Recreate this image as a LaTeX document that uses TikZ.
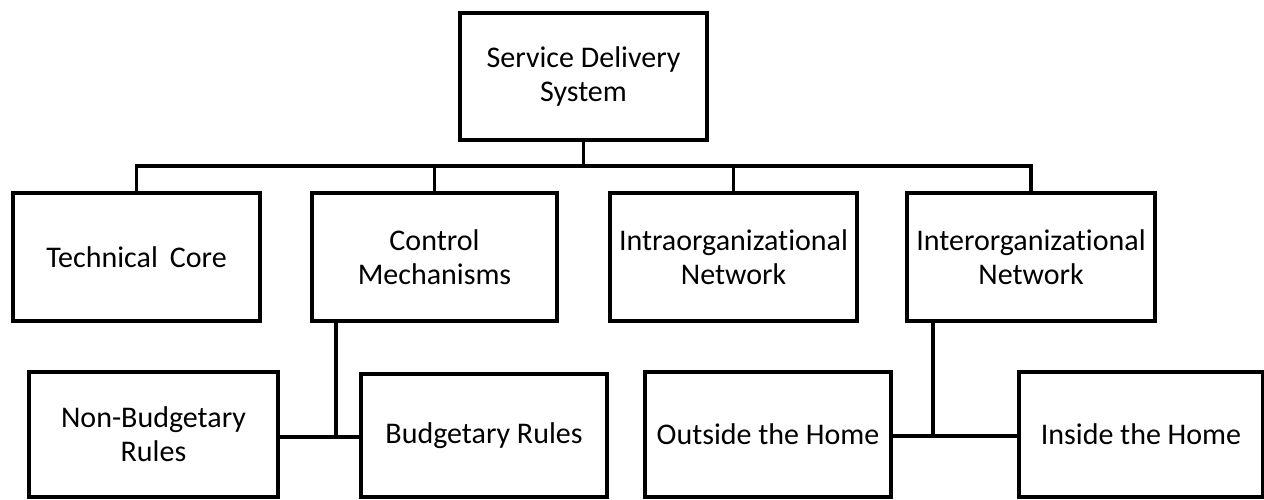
\documentclass[tikz,border=0pt]{standalone}
\usepackage{fontspec}
\setmainfont{Carlito}[Ligatures=NoCommon]
\begin{document}
\begin{tikzpicture}[x=1pt,y=-1pt,
  box/.style={draw=black, line width=3.2pt, fill=white, inner sep=0pt, align=center,
    font=\fontsize{30}{34}\selectfont},
  conn/.style={draw=black, line width=3.2pt}]
\useasboundingbox (0,0) rectangle (1264,499);
\node[box, minimum width=247pt, minimum height=127pt] (top) at (583.5,76.5) {Service Delivery\\System};
\node[box, minimum width=247pt, minimum height=128pt] (tech) at (136.5,257) {Technical\hspace{0.4em}Core};
\node[box, minimum width=245pt, minimum height=128pt] (control) at (434.5,257) {Control\\Mechanisms};
\node[box, minimum width=247pt, minimum height=128pt] (intra) at (733.5,257) {Intraorganizational\\Network};
\node[box, minimum width=248pt, minimum height=128pt] (inter) at (1031,257) {Interorganizational\\Network};
\node[box, minimum width=249pt, minimum height=125pt] (nonbud) at (153.5,434.5) {Non-Budgetary\\Rules};
\node[box, minimum width=246pt, minimum height=123pt] (bud) at (484,435.5) {\raisebox{-3pt}{Budgetary Rules}};
\node[box, minimum width=246pt, minimum height=125pt] (outside) at (768,434.5) {Outside the Home};
\node[box, minimum width=244pt, minimum height=125pt] (inside) at (1141,434.5) {Inside the Home};
\coordinate (bus) at (583.5,166);
\draw[conn] (top.south) -- (bus);
\draw[conn] (tech.north) |- (bus) -| (inter.north);
\draw[conn] (control.north) -- (control.north |- bus);
\draw[conn] (intra.north) -- (intra.north |- bus);
\coordinate (c1) at (336,321);
\coordinate (c2) at (336,437);
\draw[conn] (c1) -- (c2);
\draw[conn] (nonbud.east |- c2) -- (c2) -- (bud.west |- c2);
\coordinate (i1) at (933,321);
\coordinate (i2) at (933,436);
\draw[conn] (i1) -- (i2);
\draw[conn] (outside.east |- i2) -- (i2) -- (inside.west |- i2);
\end{tikzpicture}
\end{document}
